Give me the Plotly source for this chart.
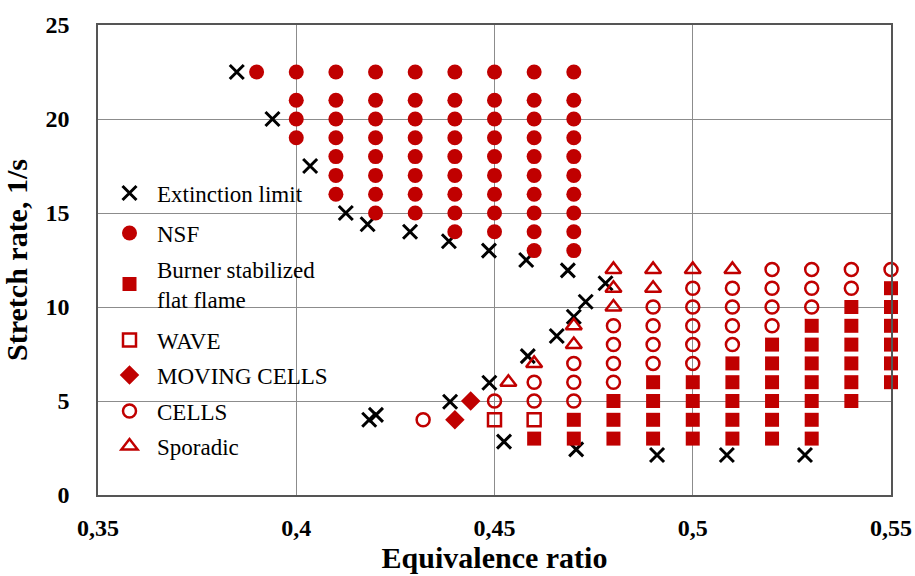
import plotly.graph_objects as go

RED = "#C00000"

# ---- data ----
ext_x = [0.385, 0.394, 0.4035, 0.4125, 0.418, 0.4287, 0.4385, 0.4486, 0.458, 0.4685,
         0.478, 0.473, 0.470, 0.4657, 0.4584, 0.4487, 0.4388, 0.4201, 0.4184,
         0.4524, 0.4706, 0.491, 0.5086, 0.5283]
ext_y = [22.5, 20.0, 17.5, 15.0, 14.4, 14.0, 13.5, 13.0, 12.5, 11.95,
         11.26, 10.28, 9.48, 8.46, 7.39, 5.97, 4.96, 4.26, 4.0,
         2.84, 2.43, 2.13, 2.13, 2.13]

nsf_cols = {
    0.39: [22.5],
    0.40: [22.5, 21, 20, 19],
    0.41: [22.5, 21, 20, 19, 18, 17, 16],
    0.42: [22.5, 21, 20, 19, 18, 17, 16, 15],
    0.43: [22.5, 21, 20, 19, 18, 17, 16, 15],
    0.44: [22.5, 21, 20, 19, 18, 17, 16, 15, 14],
    0.45: [22.5, 21, 20, 19, 18, 17, 16, 15, 14],
    0.46: [22.5, 21, 20, 19, 18, 17, 16, 15, 14, 13],
    0.47: [22.5, 21, 20, 19, 18, 17, 16, 15, 14, 13],
}
burner_cols = {
    0.46: [3],
    0.47: [4, 3],
    0.48: [5, 4, 3],
    0.49: [6, 5, 4, 3],
    0.50: [6, 5, 4, 3],
    0.51: [7, 6, 5, 4, 3],
    0.52: [8, 7, 6, 5, 4, 3],
    0.53: [9, 8, 7, 6, 5, 4, 3],
    0.54: [10, 9, 8, 7, 6, 5],
    0.55: [11, 10, 9, 8, 7, 6],
}
wave_x = [0.45, 0.46]
wave_y = [4, 4]
moving_x = [0.44, 0.444]
moving_y = [4, 5]
cells_cols = {
    0.432: [4],
    0.45: [5],
    0.46: [5, 6],
    0.47: [5, 6, 7],
    0.48: [6, 7, 8, 9],
    0.49: [7, 8, 9, 10],
    0.50: [7, 8, 9, 10, 11],
    0.51: [8, 9, 10, 11],
    0.52: [9, 10, 11, 12],
    0.53: [10, 11, 12],
    0.54: [11, 12],
    0.55: [12],
}
sporadic_cols = {
    0.4535: [6],
    0.46: [7],
    0.47: [8, 9],
    0.48: [10, 11, 12],
    0.49: [11, 12],
    0.50: [12],
    0.51: [12],
}

x_tickvals = [0.35, 0.4, 0.45, 0.5, 0.55]
x_ticktext = ["0,35", "0,4", "0,45", "0,5", "0,55"]
y_tickvals = [0, 5, 10, 15, 20, 25]
y_ticktext = ["0", "5", "10", "15", "20", "25"]


def flatten(cols):
    xs, ys = [], []
    for xv, yl in cols.items():
        for yv in yl:
            xs.append(xv)
            ys.append(yv)
    return xs, ys


nsf_x, nsf_y = flatten(nsf_cols)
burner_x, burner_y = flatten(burner_cols)
cells_x, cells_y = flatten(cells_cols)
spor_x, spor_y = flatten(sporadic_cols)

fig = go.Figure()

series = [
    ("Extinction limit", ext_x, ext_y, dict(symbol="x-thin", size=14, line=dict(width=3, color="black"), color="black"), "legend"),
    ("NSF", nsf_x, nsf_y, dict(symbol="circle", size=15, color=RED, line=dict(width=0)), "legend2"),
    ("Burner stabilized<br>flat flame", burner_x, burner_y, dict(symbol="square", size=14, color=RED, line=dict(width=0)), "legend3"),
    ("WAVE", wave_x, wave_y, dict(symbol="square-open", size=13, color=RED, line=dict(width=2.5, color=RED)), "legend4"),
    ("MOVING CELLS", moving_x, moving_y, dict(symbol="diamond", size=15, color=RED, line=dict(width=0)), "legend5"),
    ("CELLS", cells_x, cells_y, dict(symbol="circle-open", size=13, color=RED, line=dict(width=2.5, color=RED)), "legend6"),
    ("Sporadic", spor_x, spor_y, dict(symbol="triangle-up-open", size=14, color=RED, line=dict(width=2.5, color=RED)), "legend7"),
]

for name, xs, ys, mk, lg in series:
    fig.add_trace(go.Scatter(x=xs, y=ys, mode="markers", name=name, marker=mk,
                             legend=lg, cliponaxis=False))

# legend item vertical centres (pixel rows in the 576-high image)
legend_rows = [193, 233, 284, 340, 375, 411, 446]
plot_top, plot_bottom = 25, 495
plot_left, plot_right = 98, 891
legend_font = dict(family="Liberation Serif, Times New Roman, serif", size=23, color="black")
layout_legends = {}
keys = ["legend", "legend2", "legend3", "legend4", "legend5", "legend6", "legend7"]
for k, row in zip(keys, legend_rows):
    layout_legends[k] = dict(
        x=4 / (plot_right - plot_left), xanchor="left",
        y=(plot_bottom - row) / (plot_bottom - plot_top), yanchor="middle",
        bgcolor="rgba(0,0,0,0)", font=legend_font, itemwidth=45,
        borderwidth=0,
    )

serif = "Liberation Serif, Times New Roman, serif"
tick_font = dict(family=serif, size=24, color="black")
title_font = dict(family=serif, size=30, color="black")

fig.update_layout(
    width=915, height=576,
    margin=dict(l=plot_left, r=915 - plot_right, t=plot_top, b=576 - plot_bottom),
    paper_bgcolor="white", plot_bgcolor="white",
    showlegend=True,
    **layout_legends,
)

fig.update_xaxes(
    range=[0.35, 0.55], tickvals=x_tickvals,
    ticktext=[f"<b>{t}</b>" for t in x_ticktext],
    tickfont=tick_font, ticks="", ticklabelstandoff=10,
    showgrid=True, gridcolor="#8c8c8c", gridwidth=1,
    showline=True, linecolor="#555555", linewidth=1.5, mirror=True,
    zeroline=False,
    title=dict(text="<b>Equivalence ratio</b>", font=title_font, standoff=2),
    automargin=False,
)
fig.update_yaxes(
    range=[0, 25], tickvals=y_tickvals,
    ticktext=[f"<b>{t}</b>" for t in y_ticktext],
    tickfont=tick_font, ticks="", ticklabelstandoff=22,
    showgrid=True, gridcolor="#8c8c8c", gridwidth=1,
    showline=True, linecolor="#555555", linewidth=1.5, mirror=True,
    zeroline=False,
    title=dict(text="<b>Stretch rate, 1/s</b>", font=title_font, standoff=10),
    automargin=False,
)

fig.write_html("out.html", config={"displayModeBar": False},
               post_script="document.body.style.margin='0';")
